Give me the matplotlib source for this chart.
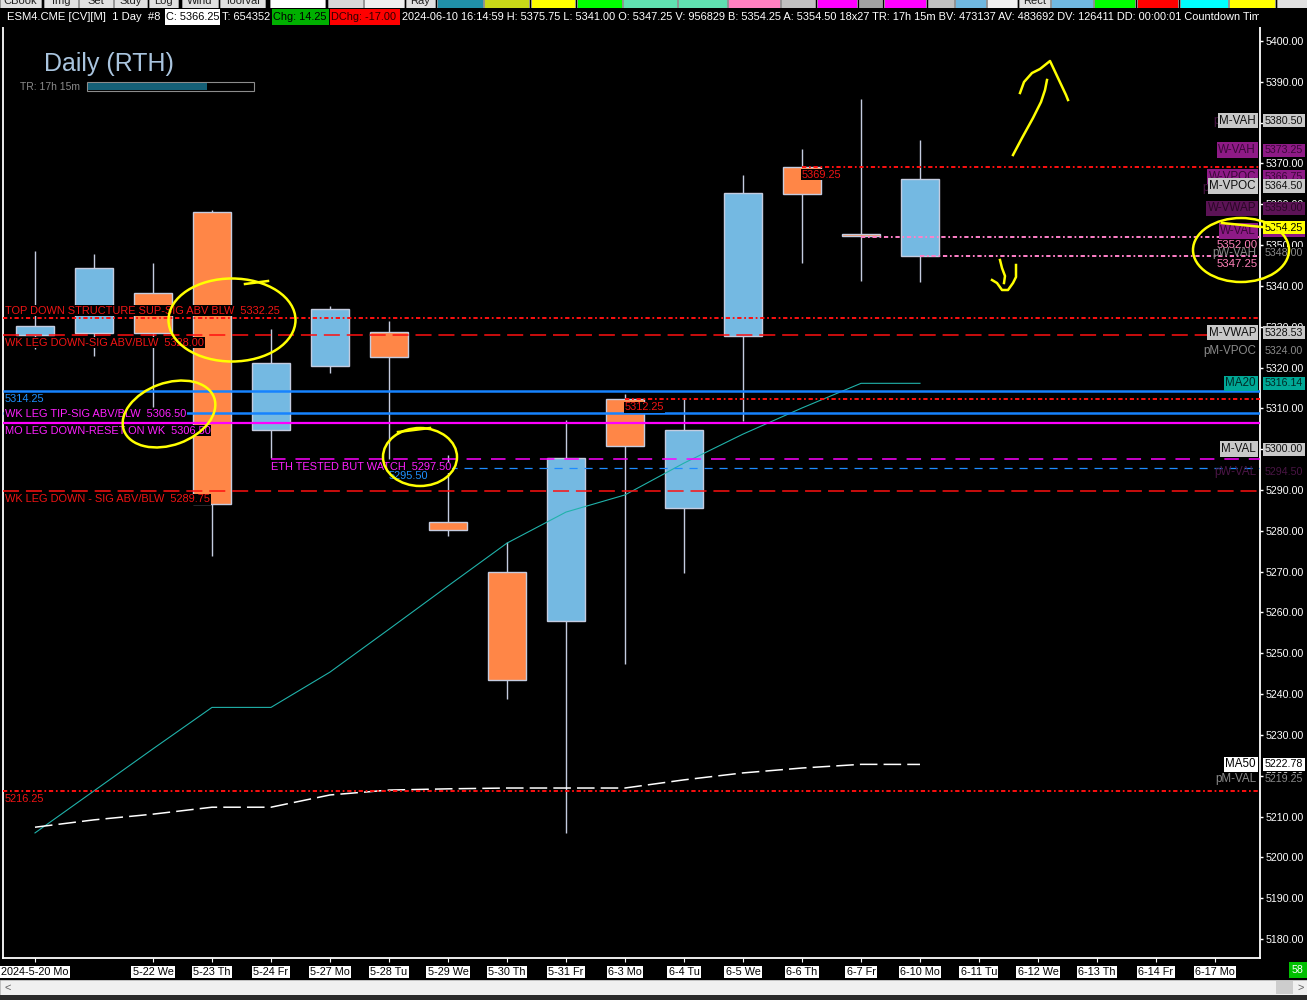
import matplotlib
matplotlib.use("Agg")
import matplotlib.pyplot as plt
import matplotlib.transforms as mtransforms
from matplotlib.patches import Ellipse, Rectangle

plt.rcParams['font.family'] = ['Liberation Sans', 'DejaVu Sans']

# ---------------- data ----------------
dates = ["2024-5-20 Mo", "5-21 Tu", "5-22 We", "5-23 Th", "5-24 Fr", "5-27 Mo", "5-28 Tu",
         "5-29 We", "5-30 Th", "5-31 Fr", "6-3 Mo", "6-4 Tu", "6-5 We", "6-6 Th", "6-7 Fr",
         "6-10 Mo", "6-11 Tu", "6-12 We", "6-13 Th", "6-14 Fr", "6-17 Mo"]
hidden_dates = ["5-21 Tu"]

opens = [5328.00, 5328.50, 5338.25, 5358.00, 5304.75, 5320.50, 5328.75, 5282.25,
         5270.00, 5258.00, 5312.25, 5285.50, 5327.75, 5369.25, 5352.75, 5347.25]
highs = [5348.50, 5347.75, 5345.50, 5358.50, 5329.50, 5335.00, 5331.50, 5298.50,
         5277.25, 5307.25, 5313.50, 5312.50, 5367.25, 5373.50, 5385.75, 5375.75]
lows = [5324.50, 5322.75, 5310.25, 5273.75, 5297.75, 5318.75, 5297.50, 5278.75,
        5238.75, 5206.00, 5247.50, 5269.75, 5307.00, 5345.50, 5341.25, 5341.00]
closes = [5330.25, 5344.50, 5328.50, 5286.50, 5321.00, 5334.25, 5322.50, 5280.25,
          5243.50, 5297.75, 5300.75, 5304.75, 5362.75, 5362.50, 5352.25, 5366.25]

ma20 = [5206.0, 5216.3, 5226.6, 5236.75, 5236.75, 5245.4, 5255.9, 5266.5,
        5277.0, 5284.6, 5288.8, 5296.6, 5303.7, 5310.1, 5316.14, 5316.14]
ma50 = [5207.4, 5209.2, 5210.6, 5212.3, 5212.3, 5215.3, 5216.5, 5216.8,
        5217.0, 5217.0, 5217.0, 5219.0, 5220.7, 5221.9, 5222.8, 5222.78]

lvl_price = [5332.25, 5328.00, 5314.25, 5308.75, 5306.50, 5312.25, 5297.50,
             5295.50, 5289.75, 5369.25, 5352.00, 5347.25, 5216.25]
lvl_text = ["TOP DOWN STRUCTURE SUP-SIG ABV BLW  5332.25", "WK LEG DOWN-SIG ABV/BLW  5328.00",
            "5314.25", "WK LEG TIP-SIG ABV/BLW  5306.50", "MO LEG DOWN-RESET ON WK  5306.50",
            "5312.25", "ETH TESTED BUT WATCH  5297.50", "5295.50",
            "WK LEG DOWN - SIG ABV/BLW  5289.75", "5369.25", "5352.00", "5347.25", "5216.25"]
lvl_start = [None, None, None, None, None, 10, 4, 6, None, 13, 14, 15, None]

box_names = ["W-VPOC", "W-VAL", "M-VAH", "W-VAH", "M-VPOC", "W-VWAP", "M-VWAP", "MA20", "M-VAL", "MA50"]
box_prices = [5366.75, 5353.50, 5380.50, 5373.25, 5364.50, 5359.00, 5328.53, 5316.14, 5300.00, 5222.78]
plain_names = ["pM-VAH", "pW-VPOC", "pW-VAH", "pM-VPOC", "pW-VAL", "pM-VAL"]
plain_prices = [5380.50, 5364.00, 5348.00, 5324.00, 5294.50, 5219.25]
last_price = 5354.25

header_main = ("2024-06-10 16:14:59 H: 5375.75 L: 5341.00 O: 5347.25 V: 956829 B: 5354.25 "
               "A: 5354.50 18x27 TR: 17h 15m BV: 473137 AV: 483692 DV: 126411 DD: 00:00:01 "
               "Countdown Timer")

# ---------------- layout ----------------
W, H = 1307, 1000
fig = plt.figure(figsize=(W / 100, H / 100), dpi=100, facecolor='black')
ax = fig.add_axes([3 / W, 1 - 958 / H, 1257 / W, 931 / H])
ax.set_facecolor('black')
ax.set_xlim(-0.542, 20.763)
ax.set_ylim(5175.36, 5403.43)

BLUE_C, ORANGE_C, EDGE = '#74b9e2', '#ff8647', '#c4cce0'
n = len(opens)
xs = list(range(n))
bottoms = [min(o, c) for o, c in zip(opens, closes)]
heights = [max(abs(c - o), 0.5) for o, c in zip(opens, closes)]
cols = [BLUE_C if c > o else ORANGE_C for o, c in zip(opens, closes)]

ax.vlines(xs, lows, highs, color=EDGE, lw=1, zorder=2)
ax.bar(xs, heights, bottom=bottoms, width=0.64, color=cols, edgecolor=EDGE, linewidth=1, zorder=3)

ax.plot(xs, ma20, color='#20b2aa', lw=0.8, zorder=4)
ax.plot(xs, ma50, color='white', lw=1.1, ls=(0, (11.5, 4)), zorder=4)

# level lines
styles = {
    'red_dd': dict(color='#ff1010', lw=1.4, ls=(0, (2.2, 1.4, 0.9, 1.4))),
    'red_dash': dict(color='#ff1010', lw=1.1, ls=(0, (10.5, 4.5))),
    'blue': dict(color='#1683ff', lw=1.8, ls='solid'),
    'magenta': dict(color='#ff00ff', lw=1.6, ls='solid'),
    'mag_dash': dict(color='#ff00ff', lw=1.1, ls=(0, (9.5, 6.5))),
    'blue_dash': dict(color='#1e8cff', lw=0.9, ls=(0, (6.5, 5.5))),
    'pink_dd': dict(color='#ff80c8', lw=1.4, ls=(0, (2.2, 1.4, 0.9, 1.4))),
}
kinds = ['red_dd', 'red_dash', 'blue', 'blue', 'magenta', 'red_dd', 'mag_dash',
         'blue_dash', 'red_dash', 'red_dd', 'pink_dd', 'pink_dd', 'red_dd']
text_col = {'red_dd': '#f01414', 'red_dash': '#f01414', 'blue': '#1e90ff', 'magenta': '#ff20ff',
            'mag_dash': '#ff20ff', 'blue_dash': '#1e90ff', 'pink_dd': '#ff7fb8'}
text_dy = [7, -8, -8, -1, -8, -8, -8, -8, -8, -8, -8, -8, -8]
text_col_override = {3: '#ff20ff'}
FS = 7.9

x0, x1 = ax.get_xlim()
trans = mtransforms.blended_transform_factory(ax.transAxes, ax.transData)
for k, (p, t, s, kind) in enumerate(zip(lvl_price, lvl_text, lvl_start, kinds)):
    st = styles[kind]
    ax.hlines(p, x0 if s is None else s, x1, colors=st['color'], linewidth=st['lw'],
              linestyles=[st['ls']], zorder=5)
    tc = text_col_override.get(k, text_col[kind])
    bb = dict(boxstyle='square,pad=0.05', fc='black', ec='none')
    if kind == 'pink_dd':
        ax.annotate(t, xy=(0.9984, p), xycoords=trans, xytext=(0, text_dy[k]),
                    textcoords='offset pixels', ha='right', va='center', color=tc,
                    fontsize=8.2, zorder=7, annotation_clip=False)
    elif s is None:
        ax.annotate(t, xy=(0.0016, p), xycoords=trans, xytext=(0, text_dy[k]),
                    textcoords='offset pixels', ha='left', va='center', color=tc,
                    fontsize=FS, bbox=bb, zorder=7, annotation_clip=False)
    else:
        ax.annotate(t, xy=(s, p), xycoords='data', xytext=(0, text_dy[k]),
                    textcoords='offset pixels', ha='left', va='center', color=tc,
                    fontsize=FS, bbox=bb, zorder=7, annotation_clip=False)

# axes styling
for side in ['left', 'right', 'bottom']:
    ax.spines[side].set_color('white')
    ax.spines[side].set_linewidth(1.3)
ax.spines['top'].set_visible(False)
ax.yaxis.tick_right()
yt = [5180 + 10 * k for k in range(23)]
ax.set_yticks(yt)
ax.set_yticklabels([f"{v:.2f}" for v in yt])
ax.tick_params(axis='y', colors='white', labelsize=7.7, length=2.5, pad=1.5, width=1)

lab_idx = [i for i, d in enumerate(dates) if d not in hidden_dates]
ax.set_xticks(lab_idx)
ax.set_xticklabels([dates[i] for i in lab_idx])
ax.tick_params(axis='x', colors='white', labelcolor='black', labelsize=7.8, length=3, pad=3.5)
for lbl in ax.get_xticklabels():
    lbl.set_bbox(dict(boxstyle='square,pad=0.12', fc='white', ec='none'))

# right-side price boxes
name_x = (1256 - 3) / 1257
val_x = (1265 - 3) / 1257
plain_col = {'pM-VAH': '#4a1545', 'pW-VPOC': '#4a1545', 'pW-VAL': '#4a1545',
             'pW-VAH': '#8a8a8a', 'pM-VPOC': '#8a8a8a', 'pM-VAL': '#8a8a8a'}
for nm, p in zip(plain_names, plain_prices):
    c = plain_col[nm]
    ax.text(name_x, p, nm, transform=trans, ha='right', va='center', color=c, fontsize=8.4,
            zorder=8, clip_on=False)
    ax.text(val_x, p, f"{p:.2f}", transform=trans, ha='left', va='center', color=c,
            fontsize=7.7, zorder=8, clip_on=False,
            bbox=dict(boxstyle='square,pad=0.1', fc='black', ec='none'))

box_style = {'M-VAH': ('#c8c8c8', '#101010'), 'M-VPOC': ('#c8c8c8', '#101010'),
             'M-VWAP': ('#c8c8c8', '#101010'), 'M-VAL': ('#c8c8c8', '#101010'),
             'W-VAH': ('#8e1a86', '#3a0838'), 'W-VAL': ('#8e1a86', '#3a0838'),
             'W-VPOC': ('#8e1a86', '#3a0838'), 'W-VWAP': ('#5c1356', '#2a0726'),
             'MA20': ('#00a896', '#002a26'), 'MA50': ('white', 'black')}
for nm, p in zip(box_names, box_prices):
    fc, tc = box_style[nm]
    bb = dict(boxstyle='square,pad=0.15', fc=fc, ec='none')
    ax.text(name_x, p, nm, transform=trans, ha='right', va='center', color=tc, fontsize=8.4,
            bbox=bb, zorder=9, clip_on=False)
    ax.text(val_x, p, f"{p:.2f}", transform=trans, ha='left', va='center', color=tc,
            fontsize=7.7, bbox=bb, zorder=9, clip_on=False)
ax.text(val_x, last_price, f"{last_price:.2f}", transform=trans, ha='left', va='center',
        color='black', fontsize=7.7, zorder=10, clip_on=False,
        bbox=dict(boxstyle='square,pad=0.15', fc='#ffff00', ec='none'))

# ---------------- overlay: window chrome, header, scribbles ----------------
ov = fig.add_axes([0, 0, 1, 1], zorder=10)
ov.set_xlim(0, W)
ov.set_ylim(H, 0)
ov.axis('off')

toolbar = [(0, 41, '#e1e1e1', 'CBook'), (44, 78, '#e1e1e1', 'Img'), (79, 113, '#e1e1e1', 'Set'),
           (114, 147, '#e1e1e1', 'Stdy'), (149, 178, '#e1e1e1', 'Log'),
           (182, 218, '#e1e1e1', 'Wind'), (220, 265, '#e1e1e1', 'ToolVal'),
           (270, 325, '#ffffff', ''), (328, 363, '#d8d8d8', ''), (364, 404, '#f0f0f0', ''),
           (406, 435, '#e1e1e1', 'Ray'), (437, 483, '#2090a8', ''), (484, 529, '#c8d818', ''),
           (531, 575, '#ffff00', ''), (577, 622, '#00ff00', ''), (623, 677, '#60e0b0', ''),
           (678, 727, '#60e0b0', ''), (728, 780, '#ff80c0', ''), (781, 815, '#c0c0c0', ''),
           (817, 857, '#ff00ff', ''), (859, 882, '#a0a0a0', ''), (884, 926, '#ff00ff', ''),
           (928, 954, '#c0c0c0', ''), (955, 986, '#70b8e0', ''), (987, 1017, '#f0f0f0', ''),
           (1019, 1050, '#e1e1e1', 'Rect'), (1051, 1093, '#70b8e0', ''), (1094, 1135, '#00ff00', ''),
           (1137, 1178, '#ff0000', ''), (1180, 1228, '#00ffff', ''), (1229, 1275, '#ffff00', ''),
           (1277, 1307, '#e0e0e0', '')]
for a, b, c, t in toolbar:
    ov.add_patch(Rectangle((a, -2), b - a, 10, fc=c, ec='#a0a0a0', lw=0.6, zorder=1))
    if t:
        ov.text((a + b) / 2, 1.5, t, ha='center', va='center', fontsize=8, color='#202020', zorder=1.5)
ov.add_patch(Rectangle((0, 8), W, 19, fc='black', ec='none', zorder=2))

hy = 17
ov.text(7, hy, "ESM4.CME [CV][M]  1 Day  #8", color='white', fontsize=8.1, va='center', zorder=3)
ov.add_patch(Rectangle((165, 9), 55, 16, fc='white', ec='none', zorder=3))
ov.text(166, hy, "C: 5366.25", color='black', fontsize=7.9, va='center', zorder=4)
ov.text(222, hy, "T: 654352", color='white', fontsize=7.9, va='center', zorder=3)
ov.add_patch(Rectangle((272, 9), 57, 16, fc='#00b000', ec='none', zorder=3))
ov.text(273, hy, "Chg: 14.25", color='black', fontsize=7.9, va='center', zorder=4)
ov.add_patch(Rectangle((330, 9), 70, 16, fc='#ff0000', ec='none', zorder=3))
ov.text(331, hy, "DChg: -17.00", color='#300000', fontsize=7.9, va='center', zorder=4)
htxt = ov.text(402, hy, header_main, color='white', fontsize=7.9, va='center', zorder=3)
htxt.set_clip_box(mtransforms.Bbox.from_extents(0, 0, 1259, H))
htxt.set_clip_on(True)

ov.text(44, 64, "Daily (RTH)", color='#a9c4de', fontsize=18, va='center', zorder=3)
ov.text(20, 87, "TR: 17h 15m", color='#8c8c8c', fontsize=7.5, va='center', zorder=3)
ov.add_patch(Rectangle((87, 82), 167, 9, fc='black', ec='#8c8c8c', lw=0.8, zorder=3))
ov.add_patch(Rectangle((88, 83), 119, 7, fc='#156077', ec='none', zorder=4))

# bottom scrollbar
ov.add_patch(Rectangle((0, 980), W, 15, fc='#f0f0f0', ec='#d0d0d0', lw=0.6, zorder=2))
ov.add_patch(Rectangle((1276, 981), 17, 13, fc='#cdcdcd', ec='none', zorder=3))
ov.add_patch(Rectangle((0, 995), W, 5, fc='#2b2b2b', ec='none', zorder=2))
ov.text(8, 988, "<", color='#606060', fontsize=8, ha='center', va='center', zorder=3)
ov.text(1301, 988, ">", color='#606060', fontsize=8, ha='center', va='center', zorder=3)
ov.add_patch(Rectangle((1289, 962), 18, 16, fc='#00c000', ec='none', zorder=3))
ov.text(1298, 970, "58", color='white', fontsize=7.7, ha='center', va='center', zorder=4)

# yellow hand-drawn marks
Y = '#ffff00'
for cx, cy, w, h, ang in [(232, 320, 127, 83, 0), (169, 414, 96, 62, -20),
                          (420, 457, 74, 58, 0), (1241, 250, 96, 64, 0)]:
    ov.add_patch(Ellipse((cx, cy), w, h, angle=ang, fill=False, ec=Y, lw=1.8, zorder=6))
ov.plot([245, 268], [284, 281], color=Y, lw=1.8, zorder=6)
ov.plot([398, 430], [432, 428], color=Y, lw=1.8, zorder=6)
ov.plot([1222, 1262], [223, 227], color=Y, lw=1.8, zorder=6)
ov.plot([1013, 1022, 1033, 1041, 1045, 1047], [155, 138, 118, 102, 90, 80], color=Y, lw=1.8, zorder=6)
ov.plot([1020, 1024, 1032, 1040, 1050, 1058, 1066, 1068],
        [93, 82, 73, 69, 61, 78, 95, 100], color=Y, lw=1.8, zorder=6)
ov.plot([1000, 1002, 1005, 1004], [260, 268, 276, 283], color=Y, lw=1.8, zorder=6)
ov.plot([992, 997, 1002, 1008, 1013, 1016, 1016], [280, 283, 290, 290, 283, 277, 265],
        color=Y, lw=1.8, zorder=6)

fig.savefig("out.png", dpi=100, facecolor='black')
